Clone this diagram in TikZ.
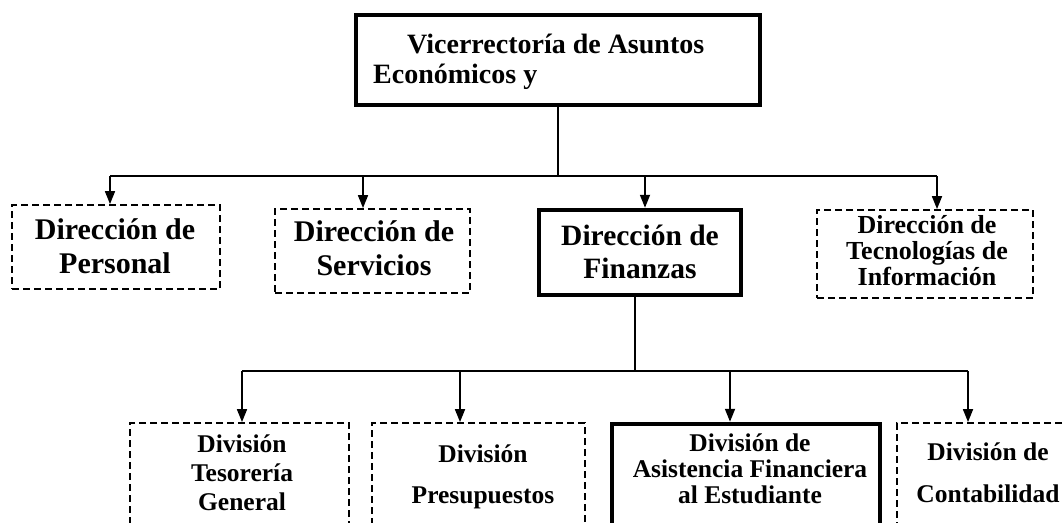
\documentclass[tikz,border=0pt]{standalone}
\usepackage{fontspec}
\setmainfont{Liberation Serif}
\usetikzlibrary{arrows.meta}
\newcommand{\tl}[1]{\rule{0pt}{40pt}#1\rule[-40pt]{0pt}{40pt}}
\begin{document}
\begin{tikzpicture}[x=1pt,y=-1pt,
  solidbox/.style={draw, line width=4.5pt, inner sep=0pt},
  dashbox/.style={draw, line width=1.8pt, dash pattern=on 7pt off 4pt, inner sep=0pt},
  lbl/.style 2 args={inner sep=0pt, align=center, font={\bfseries\fontsize{#1}{#2}\selectfont\lineskiplimit=-100pt}},
  conn/.style={line width=1.7pt},
  arr/.style={conn, -{Triangle[length=13pt,width=10pt]}}]
\useasboundingbox (0,0) rectangle (1064,522);
\clip (0,0) rectangle (1064,522);

% boxes
\node[solidbox, minimum width=404pt, minimum height=90pt] (vice) at (558,60) {};
\node[dashbox, minimum width=208pt, minimum height=84pt] (personal) at (116,247) {};
\node[dashbox, minimum width=195pt, minimum height=84pt] (servicios) at (372.5,251) {};
\node[solidbox, minimum width=202pt, minimum height=85pt] (finanzas) at (640,252.5) {};
\node[dashbox, minimum width=216pt, minimum height=88pt] (tecno) at (925,254) {};
\node[dashbox, minimum width=219pt, minimum height=117pt] (tesoreria) at (239.5,481.5) {};
\node[dashbox, minimum width=213pt, minimum height=117pt] (presupuestos) at (478.5,481.5) {};
\node[solidbox, minimum width=268pt, minimum height=116pt] (asistencia) at (746,482) {};
\node[dashbox, minimum width=178pt, minimum height=117pt] (contabilidad) at (986,481.5) {};

% texts
\node[lbl={28}{30}, align=left, anchor=west] (vice-t) at (373,68)
  {\tl{\hspace*{34pt}Vicerrectoría de Asuntos\\Económicos y}};
\node[lbl={30}{34}] (personal-t) at (115,256) {\tl{Dirección de\\Personal}};
\node[lbl={30}{34}] (servicios-t) at (374,258) {\tl{Dirección de\\Servicios}};
\node[lbl={29.5}{33}] (finanzas-t) at (640,261.5) {\tl{Dirección de\\Finanzas}};
\node[lbl={26}{26}] (tecno-t) at (927,259) {\tl{Dirección de\\Tecnologías de\\Información}};
\node[lbl={25.5}{29}] (tesoreria-t) at (242,481) {\tl{División\\Tesorería\\General}};
\node[lbl={25.5}{41}] (presupuestos-t) at (483,482.5) {\tl{División\\Presupuestos}};
\node[lbl={25.5}{26}] (asistencia-t) at (750,477) {\tl{División de\\Asistencia Financiera\\al Estudiante}};
\node[lbl={25.5}{42}] (contabilidad-t) at (988,481) {\tl{División de\\Contabilidad}};

% first level connectors
\coordinate (a1) at (110,176);
\coordinate (a2) at (363,176);
\coordinate (a3) at (645,176);
\coordinate (a4) at (937,176);
\draw[conn] (vice.south) -- (vice.south |- a1);
\draw[conn] (a1) -- (a4);
\draw[arr] (a1) -- (a1 |- personal.north);
\draw[arr] (a2) -- (a2 |- servicios.north);
\draw[arr] (a3) -- (a3 |- finanzas.north);
\draw[arr] (a4) -- (a4 |- tecno.north);

% second level connectors
\coordinate (fj) at (635,371);
\coordinate (b1) at (242,371);
\coordinate (b2) at (460,371);
\coordinate (b3) at (730,371);
\coordinate (b4) at (968,371);
\draw[conn] (fj |- finanzas.south) -- (fj);
\draw[conn] (b1) -- (b4);
\draw[arr] (b1) -- (b1 |- tesoreria.north);
\draw[arr] (b2) -- (b2 |- presupuestos.north);
\draw[arr] (b3) -- (b3 |- asistencia.north);
\draw[arr] (b4) -- (b4 |- contabilidad.north);
\end{tikzpicture}
\end{document}
